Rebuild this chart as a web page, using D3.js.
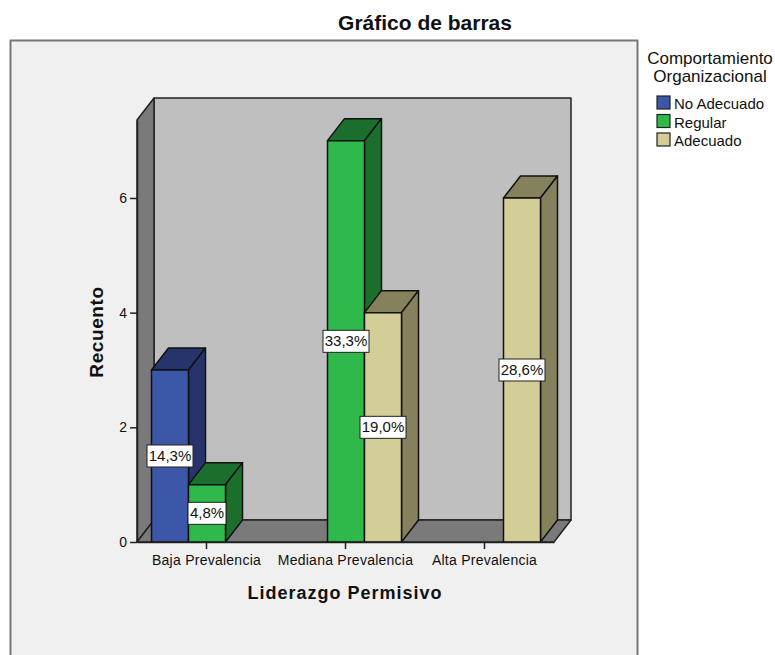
<!DOCTYPE html>
<html>
<head>
	<meta charset="utf-8">
	<title>Gráfico de barras</title>
	<script src="https://d3js.org/d3.v7.min.js"></script>
	<style>
		body { margin: 0; background: #fff; overflow: hidden; }
		text { font-family: "Liberation Sans", Arial, sans-serif; fill: #111; }
	</style>
</head>
<body>
	<script>
		var categories = ["Baja Prevalencia", "Mediana Prevalencia", "Alta Prevalencia"];
		var seriesNames = ["No Adecuado", "Regular", "Adecuado"];
		var noAdecuado = [3, 0, 0];
		var regular = [1, 7, 0];
		var adecuado = [0, 4, 6];
		var pctNoAdecuado = ["14,3%", "", ""];
		var pctRegular = ["4,8%", "33,3%", ""];
		var pctAdecuado = ["", "19,0%", "28,6%"];
		var yTicks = [0, 2, 4, 6];

		var colors = ["#3d57a8", "#2fb94b", "#d3ce97"];
		var topColors = ["#27346b", "#1c6e2d", "#85815d"];

		var width = 775, height = 655;
		var depthX = 17, depthY = 22;
		var x0 = 137, x1 = 554, yBottom = 542, yTop = 120;

		var svg = d3.select("body").append("svg").attr("width", width).attr("height", height);

		//chart frame runs off the bottom of the picture
		svg.append("rect").attr("x", 10.5).attr("y", 40.5).attr("width", 627).attr("height", 640)
			.attr("fill", "#f0f0f0").attr("stroke", "#777").attr("stroke-width", 2);

		var x = d3.scaleBand().domain(categories).range([x0, x1]);
		var slot = d3.scaleBand().domain(seriesNames).range([0, 111]);
		var y = d3.scaleLinear().domain([0, 7.36]).range([yBottom, yTop]);

		// box walls
		var walls = svg.append("g").attr("stroke", "#222").attr("stroke-width", 1.5).attr("stroke-linejoin", "round");
		walls.append("path").attr("fill", "#bfbfbf")
			.attr("d", d3.line()([[x0 + depthX, yTop - depthY], [x1 + depthX, yTop - depthY], [x1 + depthX, yBottom - depthY], [x0 + depthX, yBottom - depthY]]) + "Z");
		walls.append("path").attr("fill", "#7a7a7a")
			.attr("d", d3.line()([[x0, yTop], [x0 + depthX, yTop - depthY], [x0 + depthX, yBottom - depthY], [x0, yBottom]]) + "Z");
		walls.append("path").attr("fill", "#7a7a7a")
			.attr("d", d3.line()([[x0, yBottom], [x0 + depthX, yBottom - depthY], [x1 + depthX, yBottom - depthY], [x1, yBottom]]) + "Z");

		var seriesValues = [noAdecuado, regular, adecuado];
		var seriesPct = [pctNoAdecuado, pctRegular, pctAdecuado];
		var bars = [];
		categories.forEach(function(c, i) {
			seriesNames.forEach(function(s, j) {
				if (seriesValues[j][i] > 0) {
					bars.push({cat: c, name: s, idx: j, value: seriesValues[j][i], pct: seriesPct[j][i]});
				}
			});
		});

		function barLeft(d) { return x(d.cat) + x.bandwidth() / 2 - 55 + slot(d.name); }

		var g = svg.append("g").selectAll("g").data(bars).enter().append("g")
			.attr("stroke", "#111").attr("stroke-width", 1.5).attr("stroke-linejoin", "round");

		g.append("path").attr("fill", function(d) { return topColors[d.idx]; })
			.attr("d", function(d) {
				var l = barLeft(d), r = l + slot.bandwidth(), t = y(d.value);
				return d3.line()([[l, t], [l + depthX, t - depthY], [r + depthX, t - depthY], [r, t]]) + "Z";
			});
		g.append("path").attr("fill", function(d) { return topColors[d.idx]; })
			.attr("d", function(d) {
				var r = barLeft(d) + slot.bandwidth(), t = y(d.value);
				return d3.line()([[r, t], [r + depthX, t - depthY], [r + depthX, y(0) - depthY], [r, y(0)]]) + "Z";
			});
		g.append("rect")
			.attr("x", barLeft)
			.attr("y", function(d) { return y(d.value); })
			.attr("width", slot.bandwidth())
			.attr("height", function(d) { return y(0) - y(d.value); })
			.attr("fill", function(d) { return colors[d.idx]; });

		// axes
		var yAxis = svg.append("g").attr("transform", "translate(" + x0 + ",0)")
			.call(d3.axisLeft(y).tickValues(yTicks).tickSize(7).tickSizeOuter(0).tickPadding(3));
		var xAxis = svg.append("g").attr("transform", "translate(0," + yBottom + ")")
			.call(d3.axisBottom(x).tickSize(7).tickSizeOuter(0).tickPadding(6));
		[yAxis, xAxis].forEach(function(a) {
			a.selectAll("path.domain").attr("stroke", "#222").attr("stroke-width", 1.5);
			a.selectAll("line").attr("stroke", "#222").attr("stroke-width", 1.5);
			a.selectAll("text").style("font-family", '"Liberation Sans", Arial, sans-serif')
				.style("font-size", "14px").attr("fill", "#222");
		});
		xAxis.selectAll("text").style("letter-spacing", "0.25px");

		// data labels on top of the bars
		var labels = svg.append("g").selectAll("g").data(bars).enter().append("g")
			.attr("transform", function(d) {
				return "translate(" + (barLeft(d) + slot.bandwidth() / 2) + "," + y(d.value / 2) + ")";
			});
		labels.append("rect")
			.attr("x", function(d) { return d.pct.length > 4 ? -23 : -19; })
			.attr("y", -11)
			.attr("width", function(d) { return d.pct.length > 4 ? 46 : 38; })
			.attr("height", 22)
			.attr("fill", "#fff").attr("stroke", "#222");
		labels.append("text").attr("text-anchor", "middle").attr("dy", 5)
			.style("font-size", "15px").text(function(d) { return d.pct; });

		// titles
		svg.append("text").attr("x", 425).attr("y", 30).attr("text-anchor", "middle")
			.style("font-size", "21px").style("font-weight", "bold").text("Gráfico de barras");
		svg.append("text").attr("x", 345).attr("y", 599).attr("text-anchor", "middle")
			.style("font-size", "18px").style("font-weight", "bold").style("letter-spacing", "1px").text("Liderazgo Permisivo");
		svg.append("text").attr("transform", "translate(103,332) rotate(-90)").attr("text-anchor", "middle")
			.style("font-size", "19px").style("font-weight", "bold").style("letter-spacing", "0.6px").text("Recuento");

		// legend
		svg.append("text").attr("x", 710).attr("y", 64).attr("text-anchor", "middle")
			.style("font-size", "17px").text("Comportamiento");
		svg.append("text").attr("x", 710).attr("y", 82).attr("text-anchor", "middle")
			.style("font-size", "17px").text("Organizacional");
		var legend = svg.append("g").selectAll("g").data(seriesNames).enter().append("g")
			.attr("transform", function(d, i) { return "translate(657," + (96 + i * 18.5) + ")"; });
		legend.append("rect").attr("width", 13).attr("height", 13)
			.attr("fill", function(d, i) { return colors[i]; })
			.attr("stroke", "#222").attr("stroke-width", 1.2);
		legend.append("text").attr("x", 17).attr("y", 13).style("font-size", "15px").text(function(d) { return d; });
	</script>
</body>
</html>
